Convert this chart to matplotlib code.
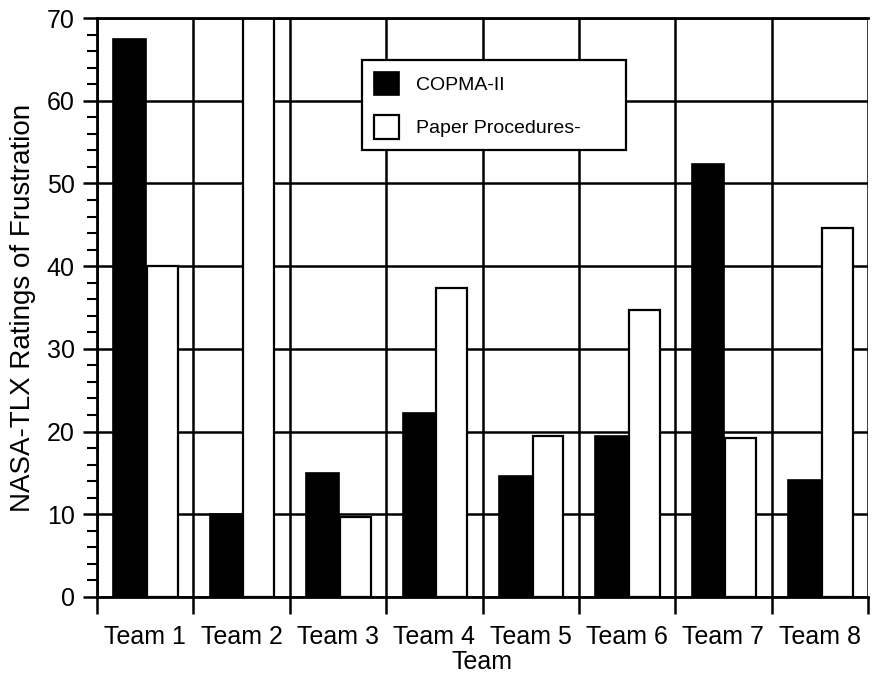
import numpy as np
import matplotlib
matplotlib.use("Agg")
import matplotlib.pyplot as plt
from matplotlib.ticker import MultipleLocator, FixedLocator

plt.rcParams['font.family'] = ['Liberation Sans', 'DejaVu Sans']

teams = ["Team 1", "Team 2", "Team 3", "Team 4", "Team 5", "Team 6", "Team 7", "Team 8"]
copma = [67.5, 10.0, 15.0, 22.2, 14.6, 19.5, 52.3, 14.2]
paper = [40.0, 70.0, 9.7, 37.4, 19.5, 34.7, 19.2, 44.6]

fig = plt.figure(figsize=(8.73, 6.84), dpi=100)
ax = fig.add_axes([97/873, 87/684, 771/873, 579/684])

x = np.arange(len(teams)) + 0.5
w = 0.34
ax.bar(x - w/2 + 0.01, copma, w, color="black", edgecolor="black", linewidth=1.2,
       label="COPMA-II", zorder=2)
ax.bar(x + w/2 + 0.01, paper, w - 0.02, color="white", edgecolor="black", linewidth=1.6,
       label="Paper Procedures-", zorder=2)

ax.set_xlim(0, 8)
ax.set_ylim(0, 70)

# team boundaries carry the ticks and grid, names sit in between
ax.xaxis.set_major_locator(FixedLocator(np.arange(0, 9)))
ax.xaxis.set_major_formatter(plt.NullFormatter())
ax.set_xticks(x, minor=True)
ax.set_xticklabels(teams, minor=True, fontsize=18)
ax.tick_params(axis="x", which="major", direction="out", length=12, width=1.8)
ax.tick_params(axis="x", which="minor", length=0, pad=20)

ax.yaxis.set_major_locator(MultipleLocator(10))
ax.yaxis.set_minor_locator(MultipleLocator(2))
ax.tick_params(axis="y", which="major", direction="out", length=10, width=1.8,
               labelsize=18, pad=6)
ax.tick_params(axis="y", which="minor", direction="out", length=7, width=1.5)

ax.grid(True, which="major", color="black", linewidth=1.8)
ax.set_axisbelow(True)

for s in ax.spines.values():
    s.set_linewidth(2)
ax.spines["right"].set_visible(False)

ax.set_xlabel("Team", fontsize=18, labelpad=1)
ax.set_ylabel("NASA-TLX Ratings of Frustration", fontsize=20, labelpad=8)

leg = ax.legend(loc="upper left", mode="expand",
                bbox_to_anchor=(362/873, 1 - 150/684, 264/873, 90/684),
                bbox_transform=fig.transFigure, borderaxespad=0,
                fontsize=14, fancybox=False, framealpha=1, edgecolor="black",
                handlelength=1.3, handleheight=1.5, labelspacing=1.0,
                handletextpad=0.9, borderpad=0.6)
leg.get_frame().set_linewidth(1.6)

fig.savefig("out.png", dpi=100)
